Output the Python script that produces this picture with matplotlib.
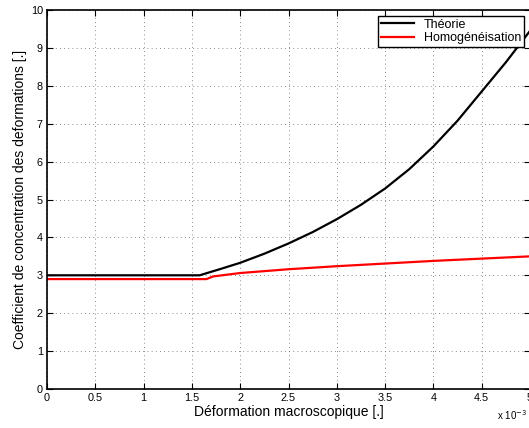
import matplotlib
matplotlib.use("Agg")
import matplotlib.pyplot as plt

plt.rcParams['font.family'] = ['Liberation Sans', 'DejaVu Sans']

# Macroscopic strain (x 1e-3) and concentration coefficients
x_theorie = [0.0, 1.58, 1.8, 2.0, 2.25, 2.5, 2.75, 3.0, 3.25, 3.5, 3.75,
             4.0, 4.25, 4.5, 4.75, 5.0]
y_theorie = [3.0, 3.0, 3.17, 3.33, 3.57, 3.84, 4.14, 4.48, 4.86, 5.29, 5.8,
             6.4, 7.08, 7.85, 8.62, 9.45]
x_homog = [0.0, 1.65, 1.72, 2.0, 2.5, 3.0, 3.5, 4.0, 4.5, 5.0]
y_homog = [2.9, 2.9, 2.97, 3.06, 3.16, 3.24, 3.31, 3.38, 3.44, 3.5]

xticks = [0, 0.5, 1, 1.5, 2, 2.5, 3, 3.5, 4, 4.5, 5]
xticklabels = ['0', '0.5', '1', '1.5', '2', '2.5', '3', '3.5', '4', '4.5', '5']
yticks = list(range(0, 11))

fig = plt.figure(figsize=(5.29, 4.28), dpi=100)
ax = fig.add_axes([47 / 529, 39 / 428, 483 / 529, 379 / 428])

ax.plot(x_theorie, y_theorie, color='black', lw=1.6, label='Théorie')
ax.plot(x_homog, y_homog, color='red', lw=1.6, label='Homogénéisation')

ax.set_xlim(0, 5)
ax.set_ylim(0, 10)
ax.set_xticks(xticks)
ax.set_xticklabels(xticklabels)
ax.set_yticks(yticks)
ax.tick_params(direction='in', top=True, right=True, length=4, labelsize=7.8, pad=3)
ax.grid(True, linestyle=(0, (1, 4)), color='0.4', lw=0.6)
for s in ax.spines.values():
    s.set_linewidth(1.2)

ax.set_xlabel('Déformation macroscopique [.]', fontsize=10, labelpad=1)
ax.set_ylabel('Coefficient de concentration des deformations [.]', fontsize=10, labelpad=3)
fig.text(497 / 529, 8 / 428, r'x 10$^{-3}$', fontsize=7, ha='left', va='baseline')

leg = ax.legend(loc='upper right', fontsize=9, fancybox=False, framealpha=1,
                edgecolor='black', borderaxespad=0.45, handlelength=2.6,
                labelspacing=0.1, borderpad=0.25)
leg.get_frame().set_linewidth(1.0)

fig.savefig('out.png', dpi=100)
